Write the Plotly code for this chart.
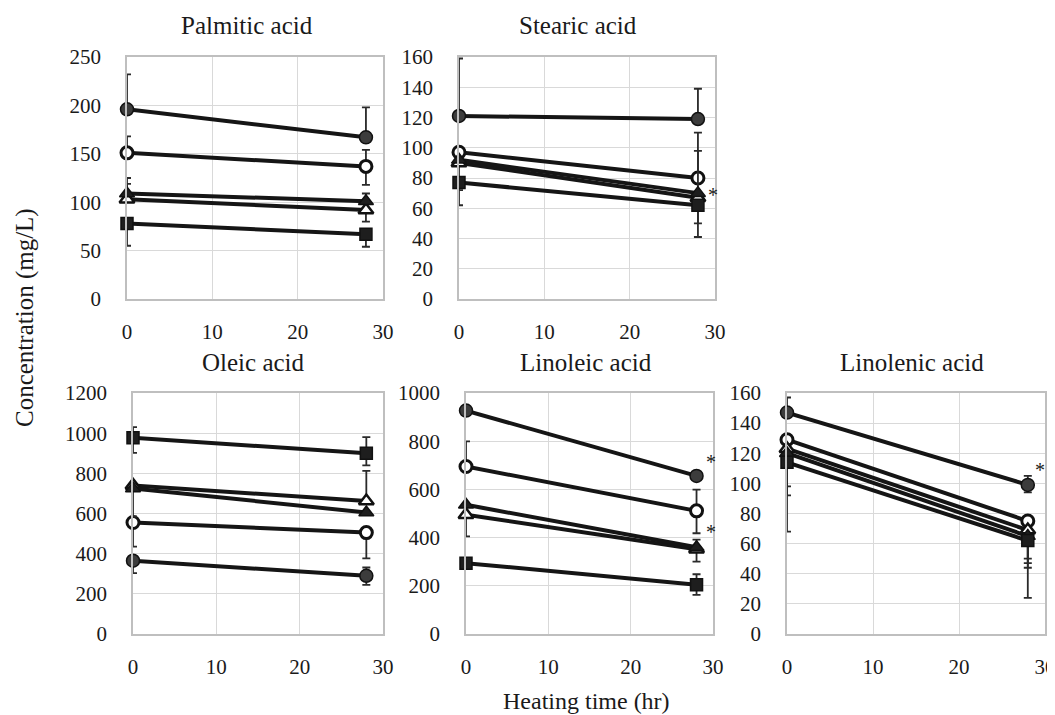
import plotly.graph_objects as go

# The page body adds an 8px margin around the figure; compensate for it.
OFF = 8
W, H = 1055, 715
FONT = "Liberation Serif"

x_time = [0, 28]
x_ticks = [0, 10, 20, 30]

# series order: filled circle, open circle, open triangle, filled triangle, filled square
palmitic = [[196, 167], [151, 137], [103, 92], [109, 101], [78, 67]]
palmitic_plus = [[36, 31], [17, 17], [16, 0], [16, 8], [0, 0]]
palmitic_minus = [[0, 0], [0, 19], [0, 12], [0, 0], [23, 13]]

stearic = [[121, 119], [97, 80], [90, 67], [92, 70], [77, 62]]
stearic_plus = [[38, 20], [0, 30], [0, 0], [0, 28], [0, 0]]
stearic_minus = [[0, 0], [0, 0], [18, 17], [0, 0], [15, 21]]

oleic = [[365, 290], [555, 505], [740, 662], [725, 605], [977, 900]]
oleic_plus = [[0, 41], [0, 0], [0, 150], [0, 0], [53, 80]]
oleic_minus = [[62, 45], [120, 128], [0, 0], [140, 0], [75, 60]]

linoleic = [[927, 656], [695, 511], [495, 352], [536, 360], [294, 204]]
linoleic_plus = [[0, 0], [104, 88], [0, 40], [0, 0], [0, 44]]
linoleic_minus = [[0, 0], [0, 93], [90, 52], [0, 0], [0, 42]]

linolenic = [[147, 99], [129, 75], [123, 69], [120, 65], [114, 62]]
linolenic_plus = [[10, 6], [0, 0], [0, 0], [0, 0], [0, 0]]
linolenic_minus = [[0, 5], [31, 25], [31, 22], [0, 21], [46, 38]]

titles = ["Palmitic acid", "Stearic acid", "Oleic acid", "Linoleic acid", "Linolenic acid"]
y_ranges = [[0, 250], [0, 160], [0, 1200], [0, 1000], [0, 160]]
y_dticks = [50, 20, 200, 200, 20]

# panel pixel boxes in page coordinates (left, right, top, bottom)
boxes = [(127, 383, 57, 299), (459, 715, 57, 299),
         (133, 383, 393, 634), (466, 713, 393, 634), (787, 1045, 393, 634)]
title_pos = [(247, 25), (578, 25), (253, 362), (586, 362), (912, 362)]

asterisks = [  # (panel index, x, y)
    (1, 29.0, 69),
    (3, 28.9, 714), (3, 28.9, 423),
    (4, 28.6, 109),
]

panels = [
    (palmitic, palmitic_plus, palmitic_minus),
    (stearic, stearic_plus, stearic_minus),
    (oleic, oleic_plus, oleic_minus),
    (linoleic, linoleic_plus, linoleic_minus),
    (linolenic, linolenic_plus, linolenic_minus),
]

marker_styles = [
    dict(symbol="circle", size=13, color="#3c3c3c", line=dict(color="#111111", width=1.5)),
    dict(symbol="circle", size=12, color="white", line=dict(color="#111111", width=3)),
    dict(symbol="triangle-up", size=13, color="white", line=dict(color="#111111", width=2.5)),
    dict(symbol="triangle-up", size=13, color="#1e1e1e", line=dict(color="#111111", width=1.5)),
    dict(symbol="square", size=12, color="#1e1e1e", line=dict(color="#111111", width=1.5)),
]


def px_x(v):
    return (v - OFF) / W


def px_y(v):
    return 1 - (v - OFF) / H


fig = go.Figure()
for p, (vals, plus, minus) in enumerate(panels):
    xa = "x" if p == 0 else f"x{p+1}"
    ya = "y" if p == 0 else f"y{p+1}"
    for s in range(5):
        fig.add_trace(go.Scatter(
            x=x_time, y=vals[s], xaxis=xa, yaxis=ya,
            mode="lines+markers",
            line=dict(color="#151515", width=4),
            marker=marker_styles[s],
            error_y=dict(type="data", symmetric=False, array=plus[s], arrayminus=minus[s],
                         color="#2a2a2a", thickness=1.8, width=4),
            cliponaxis=False, showlegend=False, hoverinfo="skip",
        ))

layout = dict(
    width=W, height=H,
    margin=dict(l=0, r=0, t=0, b=0, autoexpand=False),
    paper_bgcolor="white", plot_bgcolor="white",
    font=dict(family=FONT, color="#1a1a1a"),
    showlegend=False,
)
for p, (l, r, t, b) in enumerate(boxes):
    xk = "xaxis" if p == 0 else f"xaxis{p+1}"
    yk = "yaxis" if p == 0 else f"yaxis{p+1}"
    ya_ref = "y" if p == 0 else f"y{p+1}"
    xa_ref = "x" if p == 0 else f"x{p+1}"
    layout[xk] = dict(
        domain=[px_x(l), px_x(r)], range=[0, 30], tickvals=x_ticks, anchor=ya_ref,
        automargin=False, ticklabeloverflow="allow",
        showgrid=True, gridcolor="#d9d9d9", gridwidth=1.3,
        showline=True, linecolor="#bfbfbf", linewidth=1.5, mirror=True,
        zeroline=False, ticks="", ticklabelstandoff=13,
        tickfont=dict(family=FONT, size=21, color="#1a1a1a"),
    )
    layout[yk] = dict(
        domain=[px_y(b), px_y(t)], range=y_ranges[p], dtick=y_dticks[p], anchor=xa_ref,
        automargin=False, ticklabeloverflow="allow",
        showgrid=True, gridcolor="#d9d9d9", gridwidth=1.3,
        showline=True, linecolor="#bfbfbf", linewidth=1.5, mirror=True,
        zeroline=False, ticks="", ticklabelstandoff=20,
        tickfont=dict(family=FONT, size=21, color="#1a1a1a"),
    )
fig.update_layout(**layout)

annotations = []
for p, (tx, ty) in enumerate(title_pos):
    annotations.append(dict(text=titles[p], x=px_x(tx), y=px_y(ty), xref="paper", yref="paper",
                            showarrow=False, xanchor="center", yanchor="middle",
                            font=dict(family=FONT, size=25, color="#1a1a1a")))
for (p, ax_x, ax_y) in asterisks:
    annotations.append(dict(text="*", x=ax_x, y=ax_y, xref=f"x{p+1}", yref=f"y{p+1}",
                            showarrow=False, xanchor="left", yanchor="middle",
                            font=dict(family=FONT, size=20, color="#1a1a1a")))
annotations.append(dict(text="Concentration (mg/L)", x=px_x(25), y=px_y(318),
                        xref="paper", yref="paper", showarrow=False, textangle=-90,
                        xanchor="center", yanchor="middle",
                        font=dict(family=FONT, size=25, color="#1a1a1a")))
annotations.append(dict(text="Heating time (hr)", x=px_x(586), y=px_y(701),
                        xref="paper", yref="paper", showarrow=False,
                        xanchor="center", yanchor="middle",
                        font=dict(family=FONT, size=24, color="#1a1a1a")))
fig.update_layout(annotations=annotations)

fig.write_html("out.html")
